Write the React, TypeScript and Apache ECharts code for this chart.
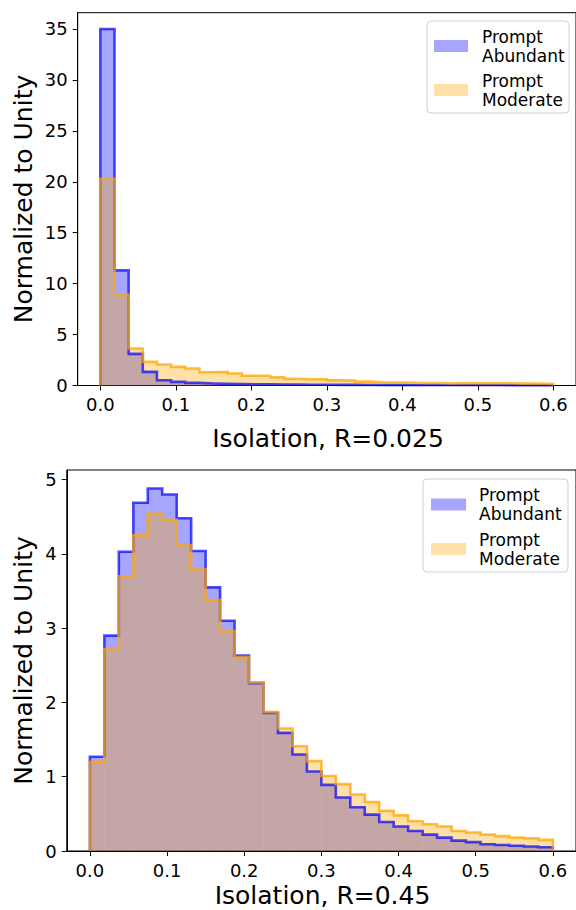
import React, { useEffect, useRef } from "react";
import * as echarts from "echarts";

// ---- data ----
const BIN_COUNT = 32;
const X_DATA_MAX = 0.6;
const X_TICKS = [0, 0.1, 0.2, 0.3, 0.4, 0.5, 0.6];
const TOP_Y_TICKS = [0, 5, 10, 15, 20, 25, 30, 35];
const BOTTOM_Y_TICKS = [0, 1, 2, 3, 4, 5];
const SERIES_NAMES = ["Prompt\nAbundant", "Prompt\nModerate"];
const TOP_TITLE_X = "Isolation, R=0.025";
const BOTTOM_TITLE_X = "Isolation, R=0.45";
const TITLE_Y = "Normalized to Unity";

const TOP_ABUNDANT = [
  35.0, 11.3, 3.1, 1.34, 0.52, 0.36, 0.26, 0.2, 0.16, 0.14, 0.12, 0.11, 0.1, 0.09, 0.08, 0.07,
  0.06, 0.06, 0.05, 0.04, 0.04, 0.03, 0.03, 0.03, 0.02, 0.02, 0.02, 0.02, 0.01, 0.01, 0.01, 0.01,
];
const TOP_MODERATE = [
  20.3, 8.9, 3.63, 2.32, 2.06, 1.83, 1.67, 1.3, 1.34, 1.18, 0.95, 0.95, 0.8, 0.65, 0.62, 0.6,
  0.5, 0.48, 0.38, 0.32, 0.3, 0.3, 0.25, 0.24, 0.2, 0.25, 0.22, 0.22, 0.22, 0.18, 0.2, 0.15,
];
const BOTTOM_ABUNDANT = [
  1.27, 2.9, 4.03, 4.69, 4.88, 4.8, 4.48, 4.04, 3.55, 3.1, 2.63, 2.26, 1.86, 1.59, 1.3, 1.07,
  0.89, 0.72, 0.59, 0.49, 0.39, 0.33, 0.27, 0.22, 0.18, 0.14, 0.12, 0.09, 0.08, 0.07, 0.06, 0.05,
];
const BOTTOM_MODERATE = [
  1.2, 2.72, 3.7, 4.25, 4.54, 4.46, 4.12, 3.79, 3.38, 2.96, 2.61, 2.27, 1.87, 1.65, 1.41, 1.21,
  1.01, 0.9, 0.76, 0.66, 0.54, 0.48, 0.4, 0.36, 0.33, 0.27, 0.25, 0.22, 0.2, 0.18, 0.17, 0.15,
];

// ---- styling ----
const FONT = '"DejaVu Sans", Verdana, sans-serif';
const BLUE_FILL = "rgba(0,0,255,0.35)";
const ORANGE_FILL = "rgba(255,165,0,0.35)";
const BLUE_LINE = "rgba(0,0,255,0.7)";
const ORANGE_LINE = "rgba(255,165,0,0.75)";

const edges = Array.from({ length: BIN_COUNT + 1 }, (_, i) => (i * X_DATA_MAX) / BIN_COUNT);

function barData(values: number[]) {
  return values.map((v, i) => [edges[i], edges[i + 1], v]);
}
function stepData(values: number[]) {
  const pts: number[][] = [[0, 0]];
  values.forEach((v, i) => pts.push([edges[i], v]));
  pts.push([X_DATA_MAX, values[values.length - 1]]);
  pts.push([X_DATA_MAX, 0]);
  return pts;
}

function fillSeries(values: number[], gi: number, color: string, z: number) {
  return {
    type: "custom",
    xAxisIndex: gi,
    yAxisIndex: gi,
    silent: true,
    z,
    encode: { x: [0, 1], y: 2 },
    data: barData(values),
    renderItem: (params: any, api: any) => {
      const p0 = api.coord([api.value(0), api.value(2)]);
      const p1 = api.coord([api.value(1), 0]);
      return {
        type: "rect",
        shape: { x: p0[0], y: p0[1], width: p1[0] - p0[0], height: p1[1] - p0[1] },
        style: { fill: color },
      };
    },
  };
}
function lineSeries(values: number[], gi: number, color: string, z: number) {
  return {
    type: "line",
    xAxisIndex: gi,
    yAxisIndex: gi,
    step: "end",
    silent: true,
    z,
    symbol: "none",
    showSymbol: false,
    data: stepData(values),
    lineStyle: { color, width: 2.6, join: "miter" },
  };
}

function xAxis(gi: number) {
  return {
    type: "value",
    gridIndex: gi,
    min: -0.03,
    max: 0.63,
    axisLine: { show: true, onZero: false, lineStyle: { color: "#000", width: 1 } },
    axisTick: { show: true, length: 5, lineStyle: { color: "#000", width: 1 }, customValues: X_TICKS },
    axisLabel: {
      customValues: X_TICKS,
      formatter: (v: number) => v.toFixed(1),
      fontFamily: FONT,
      fontSize: 18,
      color: "#000",
      margin: 10,
    },
    splitLine: { show: false },
  };
}
function yAxis(gi: number, max: number, ticks: number[]) {
  return {
    type: "value",
    gridIndex: gi,
    min: 0,
    max,
    axisLine: { show: true, onZero: false, lineStyle: { color: "#000", width: 1 } },
    axisTick: { show: true, length: 5, lineStyle: { color: "#000", width: 1 }, customValues: ticks },
    axisLabel: {
      customValues: ticks,
      formatter: (v: number) => String(v),
      fontFamily: FONT,
      fontSize: 18,
      color: "#000",
      margin: 10,
    },
    splitLine: { show: false },
  };
}

function legend(box: number[], patchX: number, patchW: number, patchYs: number[], textX: number) {
  const [bx, by, bw, bh] = box;
  const items: any[] = [
    {
      type: "rect",
      shape: { x: bx, y: by, width: bw, height: bh, r: 4 },
      style: { fill: "rgba(255,255,255,0.8)", stroke: "#d0d0d0", lineWidth: 1 },
      z: 100,
    },
  ];
  const fills = [BLUE_FILL, ORANGE_FILL];
  patchYs.forEach((cy, i) => {
    items.push({
      type: "rect",
      shape: { x: patchX, y: cy - 6, width: patchW, height: 12 },
      style: { fill: fills[i] },
      z: 101,
    });
    items.push({
      type: "text",
      x: textX,
      y: cy,
      style: {
        text: SERIES_NAMES[i],
        font: `17px ${FONT}`,
        fill: "#000",
        verticalAlign: "middle",
        lineHeight: 19,
      },
      z: 101,
    });
  });
  return items;
}

function title(text: string, x: number, y: number, rotate: boolean) {
  return {
    type: "text",
    x,
    y,
    rotation: rotate ? Math.PI / 2 : 0,
    style: {
      text,
      font: `25px ${FONT}`,
      fill: "#000",
      align: "center",
      verticalAlign: "middle",
    },
    z: 100,
  };
}

export default function App() {
  const ref = useRef<HTMLDivElement>(null);
  useEffect(() => {
    if (!ref.current) return;
    const chart = echarts.init(ref.current, null, { renderer: "svg" });
    const option: any = {
      animation: false,
      grid: [
        {
          left: 77.7,
          top: 12.7,
          width: 501.1,
          height: 372.8,
          show: true,
          borderColor: "#000",
          borderWidth: 1,
          backgroundColor: "transparent",
        },
        {
          left: 66.75,
          top: 470,
          width: 511.5,
          height: 381,
          show: true,
          borderColor: "#000",
          borderWidth: 1,
          backgroundColor: "transparent",
        },
      ],
      xAxis: [xAxis(0), xAxis(1)],
      yAxis: [yAxis(0, 36.6, TOP_Y_TICKS), yAxis(1, 5.13, BOTTOM_Y_TICKS)],
      series: [
        fillSeries(TOP_ABUNDANT, 0, BLUE_FILL, 1),
        fillSeries(TOP_MODERATE, 0, ORANGE_FILL, 2),
        lineSeries(TOP_ABUNDANT, 0, BLUE_LINE, 3),
        lineSeries(TOP_MODERATE, 0, ORANGE_LINE, 4),
        fillSeries(BOTTOM_ABUNDANT, 1, BLUE_FILL, 1),
        fillSeries(BOTTOM_MODERATE, 1, ORANGE_FILL, 2),
        lineSeries(BOTTOM_ABUNDANT, 1, BLUE_LINE, 3),
        lineSeries(BOTTOM_MODERATE, 1, ORANGE_LINE, 4),
      ],
      graphic: [
        ...legend([427, 21, 142, 92], 434, 34, [46, 90], 482),
        ...legend([423, 479, 145, 93], 431, 35, [504.5, 549], 479),
        title(TITLE_Y, 23.6, 199, true),
        title(TITLE_Y, 23.6, 660.5, true),
        title(TOP_TITLE_X, 328, 438.5, false),
        title(BOTTOM_TITLE_X, 322.5, 895.5, false),
      ],
    };
    chart.setOption(option);
    return () => chart.dispose();
  }, []);
  return (
    <div
      ref={ref}
      style={{ position: "fixed", left: 0, top: 0, width: 576, height: 910, background: "#fff" }}
    />
  );
}
